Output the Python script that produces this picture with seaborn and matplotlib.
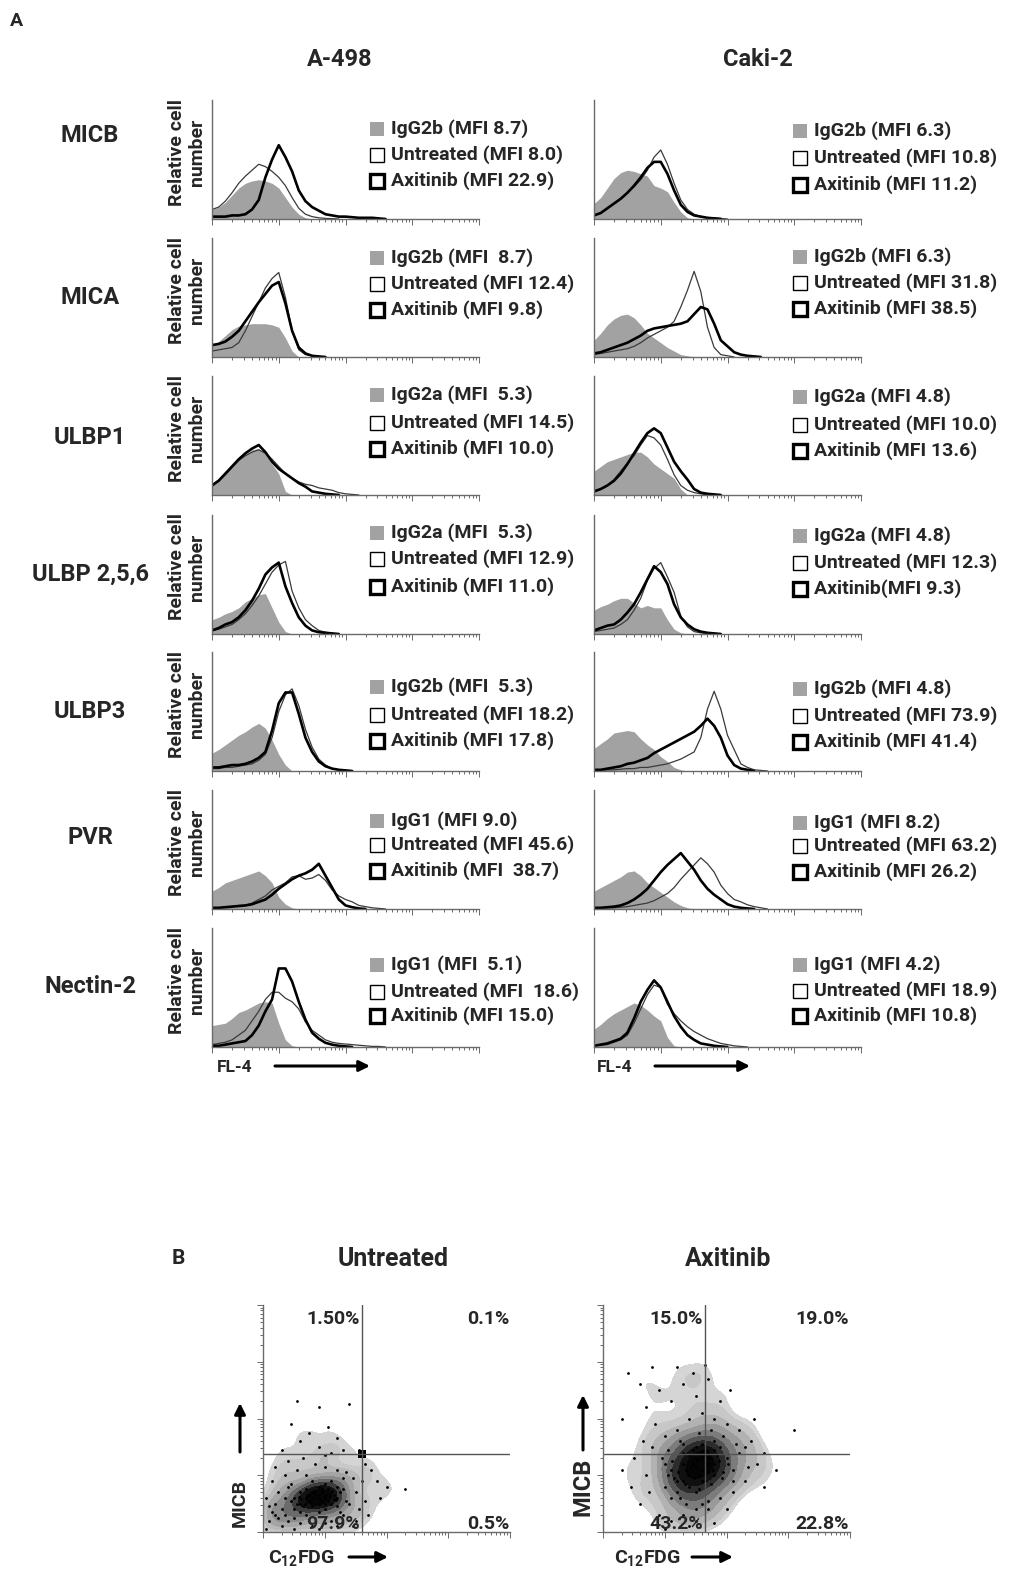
import numpy as np
import pandas as pd
import matplotlib
matplotlib.use("Agg")
import matplotlib.pyplot as plt
from matplotlib.patches import FancyArrowPatch, Rectangle
import seaborn as sns

# ---------------- data ----------------
CELL_LINES = ["A-498", "Caki-2"]
MARKERS = ["MICB", "MICA", "ULBP1", "ULBP 2,5,6", "ULBP3", "PVR", "Nectin-2"]

# fluorescence grid (log10 decades) on which histogram heights are read
GRID = [round(0.1 * i, 1) for i in range(41)]

# histogram heights (% of axis height) per marker row, A-498
A498_ISO = [
    [8, 10, 14, 20, 26, 30, 32, 33, 32, 30, 26, 18, 10, 4, 1, 0],
    [10, 13, 18, 23, 26, 27, 28, 28, 28, 27, 25, 16, 5, 0],
    [10, 14, 19, 25, 30, 34, 38, 39, 34, 26, 18, 3, 0],
    [12, 14, 17, 19, 22, 27, 30, 33, 34, 22, 10, 2, 0],
    [15, 18, 22, 26, 30, 33, 37, 40, 36, 26, 14, 5, 0],
    [15, 18, 22, 24, 26, 28, 30, 32, 28, 22, 10, 4, 1, 0],
    [18, 19, 20, 24, 29, 31, 34, 37, 38, 37, 20, 6, 1, 0],
]
A498_UNT = [
    [8, 10, 15, 22, 30, 36, 41, 46, 44, 40, 35, 28, 18, 9, 4, 2, 1, 0.5, 0.3, 0],
    [5, 6, 7, 8, 12, 22, 34, 46, 58, 66, 71, 50, 22, 6, 2, 1, 0],
    [8, 12, 17, 23, 29, 33, 36, 38, 35, 30, 24, 18, 14, 11, 9, 8, 6, 5, 4, 2, 1, 0.5, 0],
    [3, 4, 6, 8, 12, 17, 24, 32, 42, 52, 58, 61, 36, 22, 12, 7, 3, 1.5, 0.5, 0],
    [2, 2, 3, 3, 4, 5, 6, 9, 14, 28, 50, 64, 69, 55, 35, 20, 10, 5, 2, 1, 0.5, 0],
    [1, 1, 2, 2, 3, 3, 5, 8, 11, 16, 19, 22, 27, 28, 25, 26, 29, 24, 16, 11, 8, 6, 3, 2, 1, 0.5, 0],
    [2, 3, 4, 6, 10, 14, 22, 30, 40, 46, 46, 41, 38, 32, 21, 14, 10, 6, 4, 3, 2.5, 2, 1.5, 1, 0.5, 0.5, 0],
]
A498_AXI = [
    [2, 2, 2, 3, 3, 4, 8, 16, 35, 50, 62, 52, 40, 24, 15, 10, 7, 4, 3, 2, 2, 1.5, 1, 1, 1, 0.5, 0],
    [10, 11, 13, 17, 22, 30, 38, 46, 53, 60, 63, 45, 22, 8, 3, 1, 0.5, 0],
    [8, 12, 18, 24, 30, 35, 39, 42, 36, 28, 22, 18, 14, 10, 7, 3, 2, 1, 0.5, 0],
    [3, 5, 8, 10, 14, 20, 28, 38, 50, 56, 60, 40, 26, 14, 7, 3, 1.5, 1, 0.5, 0],
    [3, 3, 4, 5, 5, 6, 8, 11, 16, 34, 57, 66, 66, 48, 28, 16, 8, 4, 2, 1, 0.5, 0],
    [1, 1, 1.5, 2, 2.5, 3, 4, 6, 8, 12, 17, 21, 25, 28, 30, 33, 38, 28, 18, 8, 3, 1.5, 0.5, 0],
    [1, 1, 2, 3, 4, 5, 10, 18, 30, 40, 66, 66, 55, 38, 23, 12, 7, 3.5, 2, 1, 0.5, 0],
]
# Caki-2
CAKI_ISO = [
    [13, 18, 26, 34, 39, 41, 40, 38, 36, 28, 26, 23, 14, 6, 1, 0],
    [14, 20, 27, 32, 35, 36, 33, 27, 20, 16, 12, 8, 5, 2, 1, 0],
    [20, 24, 28, 30, 32, 34, 36, 36, 32, 26, 22, 18, 14, 5, 0],
    [20, 23, 25, 28, 30, 30, 26, 22, 24, 22, 22, 12, 4, 1, 0],
    [19, 23, 27, 32, 33, 34, 33, 27, 22, 18, 12, 8, 3, 1, 0],
    [15, 18, 21, 24, 27, 31, 32, 28, 22, 18, 14, 10, 6, 3, 1, 0],
    [15, 19, 24, 28, 31, 34, 37, 35, 31, 26, 22, 8, 1, 0],
]
CAKI_UNT = [
    [3, 5, 9, 13, 17, 22, 27, 33, 41, 52, 58, 46, 30, 16, 8, 4, 2, 1, 1, 0.5, 0],
    [2, 3, 4, 5, 6, 7, 9, 12, 16, 19, 22, 25, 30, 42, 56, 72, 55, 25, 8, 2, 1, 0],
    [3, 5, 8, 13, 20, 27, 33, 42, 50, 48, 42, 30, 17, 8, 4, 2, 1, 0],
    [2, 3, 4, 5, 8, 12, 20, 30, 45, 55, 60, 48, 35, 15, 6, 2, 1, 0.5, 0],
    [0.5, 0.5, 1, 1, 1.5, 2, 2, 3, 3, 4, 5, 6, 8, 10, 13, 16, 28, 52, 67, 52, 30, 18, 6, 3, 1, 0.5, 0],
    [0.5, 0.5, 1, 1, 1.5, 2, 3, 4, 5, 7, 10, 13, 18, 25, 31, 37, 43, 38, 31, 20, 13, 8, 6, 3.5, 2, 1, 0],
    [1, 1.5, 2, 4, 6, 10, 20, 32, 44, 52, 50, 36, 28, 22, 17, 13, 10, 7, 5, 3, 2, 1, 0.5, 0],
]
CAKI_AXI = [
    [3, 5, 9, 13, 17, 22, 28, 35, 43, 48, 48, 38, 24, 12, 6, 3, 2, 1, 0.5, 0],
    [3, 4, 6, 8, 10, 12, 15, 18, 22, 24, 25, 26, 27, 28, 30, 36, 42, 40, 28, 14, 9, 4, 2, 1, 0.5, 0],
    [3, 5, 8, 12, 18, 26, 35, 44, 52, 56, 52, 40, 28, 20, 13, 5, 2, 1, 0.5, 0],
    [3, 5, 7, 8, 12, 18, 25, 35, 46, 57, 52, 42, 25, 14, 8, 4, 2, 1, 0.5, 0],
    [1, 1, 2, 3, 4, 6, 7, 9, 11, 15, 18, 21, 24, 27, 30, 33, 38, 44, 38, 28, 13, 5, 2, 1, 0],
    [1, 1, 1.5, 2, 3, 5, 8, 12, 17, 24, 31, 37, 42, 47, 40, 33, 24, 17, 12, 8, 4, 2, 1, 0.5, 0],
    [1, 2, 3, 5, 7, 12, 24, 38, 48, 56, 50, 38, 26, 17, 10, 6, 3, 2, 1, 0.5, 0],
]

A498_LEGEND = [
    ["IgG2b (MFI 8.7)", "Untreated (MFI 8.0)", "Axitinib (MFI 22.9)"],
    ["IgG2b (MFI  8.7)", "Untreated (MFI 12.4)", "Axitinib (MFI 9.8)"],
    ["IgG2a (MFI  5.3)", "Untreated (MFI 14.5)", "Axitinib (MFI 10.0)"],
    ["IgG2a (MFI  5.3)", "Untreated (MFI 12.9)", "Axitinib (MFI 11.0)"],
    ["IgG2b (MFI  5.3)", "Untreated (MFI 18.2)", "Axitinib (MFI 17.8)"],
    ["IgG1 (MFI 9.0)", "Untreated (MFI 45.6)", "Axitinib (MFI  38.7)"],
    ["IgG1 (MFI  5.1)", "Untreated (MFI  18.6)", "Axitinib (MFI 15.0)"],
]
CAKI_LEGEND = [
    ["IgG2b (MFI 6.3)", "Untreated (MFI 10.8)", "Axitinib (MFI 11.2)"],
    ["IgG2b (MFI 6.3)", "Untreated (MFI 31.8)", "Axitinib (MFI 38.5)"],
    ["IgG2a (MFI 4.8)", "Untreated (MFI 10.0)", "Axitinib (MFI 13.6)"],
    ["IgG2a (MFI 4.8)", "Untreated (MFI 12.3)", "Axitinib(MFI 9.3)"],
    ["IgG2b (MFI 4.8)", "Untreated (MFI 73.9)", "Axitinib (MFI 41.4)"],
    ["IgG1 (MFI 8.2)", "Untreated (MFI 63.2)", "Axitinib (MFI 26.2)"],
    ["IgG1 (MFI 4.2)", "Untreated (MFI 18.9)", "Axitinib (MFI 10.8)"],
]

# Panel B: dot plots (log10 decades), C12FDG (x) vs MICB (y)
SCAT_TITLES = ["Untreated", "Axitinib"]
UNT_X = [0.5, 0.6, 0.7, 0.8, 0.9, 1.0, 1.1, 1.2, 0.7, 0.8, 0.9, 1.0, 1.1, 1.2, 0.6, 0.5, 0.75, 0.85, 0.95, 1.05,
         0.65, 0.55, 1.15, 1.25, 0.9, 1.0, 0.8, 0.7, 1.3, 1.1, 0.6, 0.45, 0.95, 0.85, 0.75, 1.05, 0.9, 1.0, 0.8, 1.2,
         0.1, 0.2, 0.15, 0.3, 0.25, 0.35, 0.4, 0.05, 0.3, 0.5, 0.6, 0.45, 0.55, 0.7, 0.8, 0.9, 1.0, 1.1, 1.2, 1.3,
         1.4, 1.5, 1.45, 1.35, 1.2, 1.0, 0.85, 0.65, 0.4, 0.2, 1.55, 1.6, 1.65, 1.75, 1.85, 1.9, 2.0, 2.3, 1.5, 1.55,
         0.3, 0.6, 0.9, 1.2, 1.3, 0.75, 0.55, 1.05, 0.9, 1.4, 0.45, 1.0, 0.15, 0.05, 0.25, 1.45, 1.65, 1.7, 0.35, 1.1,
         0.62, 0.72, 0.82, 0.92, 1.02, 1.12, 0.68, 0.78, 0.88, 0.98, 1.08, 1.18, 0.58, 0.95, 0.85, 1.15, 0.35, 0.4,
         1.35, 1.3, 0.2, 0.1, 0.5, 1.25]
UNT_Y = [0.4, 0.5, 0.6, 0.7, 0.5, 0.6, 0.7, 0.8, 0.3, 0.45, 0.8, 0.4, 0.5, 0.6, 0.7, 0.6, 0.55, 0.65, 0.7, 0.55,
         0.45, 0.5, 0.65, 0.7, 0.35, 0.85, 0.9, 0.75, 0.75, 0.9, 0.35, 0.55, 0.55, 0.5, 0.65, 0.75, 0.65, 0.5, 0.6, 0.45,
         0.2, 0.5, 0.9, 0.1, 0.7, 1.0, 0.2, 0.6, 0.4, 0.05, 0.15, 0.85, 1.1, 1.0, 0.1, 0.05, 0.15, 0.2, 0.1, 0.3,
         0.5, 0.7, 0.95, 1.05, 1.1, 1.15, 1.2, 1.3, 1.25, 1.15, 0.4, 0.9, 1.2, 1.1, 0.9, 0.6, 0.8, 0.75, 0.2, 1.45,
         1.45, 1.6, 1.5, 1.65, 1.45, 1.75, 2.3, 1.85, 2.2, 2.25, 1.9, 1.35, 0.35, 0.05, 0.25, 0.1, 0.55, 0.3, 0.6, 1.4,
         0.58, 0.62, 0.68, 0.58, 0.66, 0.72, 0.5, 0.52, 0.6, 0.62, 0.64, 0.56, 0.62, 0.78, 0.72, 0.58, 0.3, 0.8,
         0.55, 0.95, 0.3, 0.45, 0.25, 0.35]
AXI_X = [1.0, 1.2, 1.4, 1.6, 1.8, 2.0, 1.1, 1.3, 1.5, 1.7, 1.9, 1.2, 1.4, 1.6, 1.8, 2.1, 1.0, 1.3, 1.5, 1.7,
         1.6, 1.55, 1.35, 1.45, 1.65, 1.85, 2.2, 1.15, 1.25, 1.5, 1.75, 1.95, 1.05, 1.4, 1.6, 1.8, 2.3, 1.3, 1.5, 1.7,
         0.6, 0.7, 0.8, 0.5, 0.9, 1.1, 1.3, 1.5, 1.7, 1.9, 2.1, 2.3, 2.5, 2.4, 2.2, 2.0, 1.8, 1.6, 1.4, 1.2,
         1.0, 0.85, 0.7, 0.9, 1.1, 1.3, 1.5, 1.7, 1.9, 0.6, 0.4, 0.3, 0.45, 0.3, 1.0, 1.4, 1.8, 2.0, 2.6, 2.8,
         3.1, 2.6, 1.2, 0.8, 1.65, 1.45, 2.05, 0.95, 1.05, 2.35, 2.15, 1.25, 1.55, 1.75, 1.95, 0.75, 0.65, 1.6, 1.35, 2.45,
         1.58, 1.62, 1.52, 1.68, 1.42, 1.72, 1.38, 1.48, 1.78, 1.88, 1.32, 1.22, 1.12, 2.02, 1.92, 1.55, 1.65, 1.45,
         1.1, 2.1, 1.3, 1.8, 1.5, 1.7]
AXI_Y = [0.8, 0.9, 1.0, 1.1, 1.2, 1.3, 1.1, 1.2, 1.3, 1.4, 1.5, 0.7, 0.8, 0.9, 1.0, 1.1, 1.2, 1.4, 1.5, 1.2,
         1.3, 1.0, 1.1, 1.2, 1.45, 1.35, 1.4, 0.95, 0.6, 0.7, 0.85, 1.05, 1.0, 1.35, 1.55, 1.6, 1.5, 0.9, 1.15, 1.05,
         0.5, 1.0, 1.5, 1.3, 0.3, 0.2, 0.3, 0.2, 0.4, 0.6, 0.7, 0.9, 1.2, 1.6, 1.8, 1.9, 2.0, 2.1, 2.0, 1.8,
         1.7, 1.9, 2.2, 2.5, 2.3, 2.6, 2.4, 2.7, 2.3, 2.6, 2.8, 2.0, 0.8, 1.1, 0.05, 0.1, 0.15, 0.4, 1.4, 1.1,
         1.8, 0.8, 2.9, 2.9, 2.95, 2.8, 2.5, 1.3, 1.45, 1.15, 1.55, 1.6, 1.75, 1.8, 1.7, 0.7, 1.6, 0.5, 0.5, 2.0,
         1.3, 1.4, 1.25, 1.2, 1.15, 1.3, 1.0, 0.95, 1.1, 1.25, 0.85, 1.05, 1.25, 1.2, 0.95, 0.75, 0.9, 1.45,
         0.6, 0.9, 1.55, 1.45, 0.4, 0.55]
QUAD_X = [1.6, 1.65]
QUAD_Y = [1.37, 1.37]
QUAD_LABELS = [["1.50%", "0.1%", "97.9%", "0.5%"], ["15.0%", "19.0%", "43.2%", "22.8%"]]

# ---------------- style ----------------
sns.set_theme(style="white")
plt.rcParams["font.family"] = ["Roboto", "DejaVu Sans"]
plt.rcParams["font.weight"] = "bold"
plt.rcParams["mathtext.default"] = "regular"

W, H = 1010, 1583
fig = plt.figure(figsize=(W / 100, H / 100), dpi=100)
fig.patch.set_facecolor("white")


def fx(x):
    return x / W


def fy(y):
    return 1 - y / H


def ftext(x, y, s, size, ha="center", va="center", **kw):
    fig.text(fx(x), fy(y), s, fontsize=size, ha=ha, va=va, fontweight="bold", **kw)


def farrow(x0, y0, x1, y1):
    fig.add_artist(FancyArrowPatch((fx(x0), fy(y0)), (fx(x1), fy(y1)), transform=fig.transFigure,
                                   arrowstyle="-|>", mutation_scale=16, lw=2.2, color="black",
                                   shrinkA=0, shrinkB=0))


SPINE = "#6a6a6a"
ROW_TOPS = [100, 238, 376, 515, 652, 790, 928]
ROW_LABEL_Y = [136, 297, 438, 574, 711, 837, 986]
AX_H = 119
COL_X = [212, 594]
AX_W = 267
LEG_Y = [
    [[129, 155, 181], [258, 284, 310], [395, 423, 449], [533, 559, 587], [687, 715, 741], [821, 845, 871], [965, 992, 1016]],
    [[131, 158, 185], [257, 283, 309], [397, 425, 451], [536, 563, 589], [689, 716, 742], [823, 846, 872], [965, 991, 1016]],
]
LEG_X = [370, 793]

ISO = [A498_ISO, CAKI_ISO]
UNT = [A498_UNT, CAKI_UNT]
AXI = [A498_AXI, CAKI_AXI]
LEGENDS = [A498_LEGEND, CAKI_LEGEND]

ftext(16, 21, "A", 14)
ftext(340, 59, CELL_LINES[0], 17)
ftext(758, 59, CELL_LINES[1], 17)

for r, marker in enumerate(MARKERS):
    ftext(90, ROW_LABEL_Y[r], marker, 17)
    ftext(187, ROW_TOPS[r] + 52, "Relative cell\nnumber", 14, rotation=90, linespacing=1.15)
    for c in range(2):
        ax = fig.add_axes([fx(COL_X[c]), fy(ROW_TOPS[r] + AX_H), AX_W / W, AX_H / H])
        ax.set_facecolor("none")
        iso, unt, axi = ISO[c][r], UNT[c][r], AXI[c][r]
        xi = [10 ** g for g in GRID[:len(iso)]]
        ax.fill_between(xi, 0, iso, color="#a2a2a2", lw=0)
        xu = [10 ** g for g in GRID[:len(unt)]]
        sns.lineplot(x=xu, y=unt, ax=ax, color="#3a3a3a", lw=0.9, estimator=None, sort=False)
        xa = [10 ** g for g in GRID[:len(axi)]]
        sns.lineplot(x=xa, y=axi, ax=ax, color="black", lw=1.9, estimator=None, sort=False)
        ax.set_xscale("log")
        ax.set_xlim(1, 1e4)
        ax.set_ylim(0, 100)
        for s in ["top", "right"]:
            ax.spines[s].set_visible(False)
        for s in ["left", "bottom"]:
            ax.spines[s].set_color(SPINE)
            ax.spines[s].set_linewidth(1.0)
        ax.set_yticks([])
        ax.tick_params(axis="x", which="both", bottom=True, direction="out", color=SPINE,
                       labelbottom=False, width=0.7)
        ax.tick_params(axis="x", which="major", length=4)
        ax.tick_params(axis="x", which="minor", length=2.5)
        ax.set_xlabel("")
        ax.set_ylabel("")
        # legend
        lx = LEG_X[c]
        styles = [dict(facecolor="#a2a2a2", edgecolor="none", lw=0),
                  dict(facecolor="white", edgecolor="black", lw=1.0),
                  dict(facecolor="white", edgecolor="black", lw=2.4)]
        for k in range(3):
            ly = LEG_Y[c][r][k]
            fig.add_artist(Rectangle((fx(lx), fy(ly + 7)), 14 / W, 14 / H, transform=fig.transFigure, **styles[k]))
            ftext(lx + 21, ly, LEGENDS[c][r][k], 14, ha="left")

ftext(217, 1067, "FL-4", 12.5, ha="left")
farrow(275, 1066, 370, 1066)
ftext(597, 1067, "FL-4", 12.5, ha="left")
farrow(655, 1066, 750, 1066)

# ---------------- Panel B ----------------
ftext(178, 1259, "B", 15)
SC_X = [263, 603]
SC_W, SC_TOP, SC_BOT = 247, 1305, 1532
QL = [[(360, 1319, "right"), (510, 1319, "right"), (360, 1524, "right"), (510, 1524, "right")],
      [(703, 1319, "right"), (849, 1319, "right"), (703, 1524, "right"), (849, 1524, "right")]]
title_x = [393, 728]
pts = [(UNT_X, UNT_Y), (AXI_X, AXI_Y)]
cloud = sns.blend_palette(["#dadada", "#7a7a7a", "#151515", "#000000"], as_cmap=True)
for c in range(2):
    ftext(title_x[c], 1259, SCAT_TITLES[c], 18)
    ax = fig.add_axes([fx(SC_X[c]), fy(SC_BOT), SC_W / W, (SC_BOT - SC_TOP) / H])
    ax.set_facecolor("none")
    xs = [10 ** v for v in pts[c][0]]
    ys = [10 ** v for v in pts[c][1]]
    df = pd.DataFrame({"C12FDG": xs, "MICB": ys})
    sns.kdeplot(data=df, x="C12FDG", y="MICB", ax=ax, log_scale=True, fill=True, cmap=cloud,
                levels=10, thresh=0.12 if c == 0 else 0.16, bw_adjust=0.75 if c == 0 else 0.8)
    sns.scatterplot(data=df, x="C12FDG", y="MICB", ax=ax, s=4, color="black", linewidth=0)
    ax.set_xlim(1, 1e4)
    ax.set_ylim(1, 1e4)
    ax.axvline(10 ** QUAD_X[c], color="#555555", lw=1.0)
    ax.axhline(10 ** QUAD_Y[c], color="#555555", lw=1.0)
    sns.scatterplot(x=[10 ** QUAD_X[c]], y=[10 ** QUAD_Y[c]], ax=ax, marker="s", s=40, color="black",
                    linewidth=0)
    for s in ["top", "right"]:
        ax.spines[s].set_visible(False)
    for s in ["left", "bottom"]:
        ax.spines[s].set_color(SPINE)
        ax.spines[s].set_linewidth(1.0)
    ax.tick_params(axis="both", which="both", bottom=True, left=True, direction="out", color=SPINE,
                   labelbottom=False, labelleft=False, width=0.7)
    ax.tick_params(axis="both", which="major", length=4)
    ax.tick_params(axis="both", which="minor", length=2.5)
    ax.set_xlabel("")
    ax.set_ylabel("")
    for k, (tx, ty, ha) in enumerate(QL[c]):
        ftext(tx, ty, QUAD_LABELS[c][k], 14, ha=ha, zorder=5)

ftext(240, 1503, "MICB", 14, rotation=90)
farrow(240, 1452, 240, 1403)
ftext(583, 1487, "MICB", 17, rotation=90)
farrow(583, 1450, 583, 1395)
ftext(268, 1558, "C$_{12}$FDG", 14, ha="left")
farrow(349, 1557, 388, 1557)
ftext(614, 1558, "C$_{12}$FDG", 14, ha="left")
farrow(692, 1557, 733, 1557)

fig.savefig("out.png", dpi=100, facecolor="white")
